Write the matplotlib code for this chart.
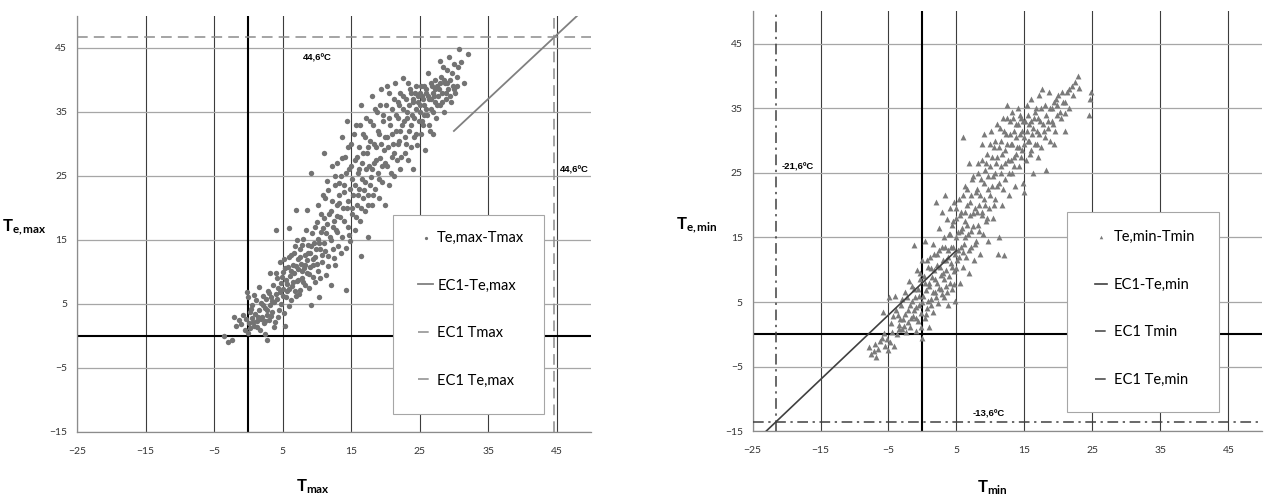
import matplotlib.pyplot as plt
from matplotlib.patches import Rectangle

plt.rcParams['font.family'] = ['Lato', 'DejaVu Sans']
plt.rcParams['mathtext.fontset'] = 'custom'
plt.rcParams['mathtext.rm'] = 'Lato'
plt.rcParams['mathtext.bf'] = 'Lato:bold'
plt.rcParams['mathtext.it'] = 'Lato:italic'

# 1. Datos (Tmax, Te,max)
puntos_max = [
    (-3.6, 0.0), (-3.0, -1.0), (-2.4, -0.6), (-2.1, 3.0), (-1.8, 1.5), (-1.4, 2.5), (-1.0, 1.8), (-0.8, 3.2),
    (-0.5, 0.9), (-0.4, 2.6), (-0.2, 6.9), (-0.1, 6.1), (0.0, 0.4), (0.1, 2.0), (0.2, 3.7), (0.3, 1.2),
    (0.5, 2.8), (0.6, 4.8), (0.8, 1.6), (1.0, 3.5), (1.1, 5.6), (1.3, 2.4), (1.5, 4.0), (1.6, 7.7),
    (1.7, 1.0), (1.9, 5.1), (2.0, 3.0), (2.1, 6.3), (2.3, 2.0), (2.4, 4.4), (2.5, 0.3), (2.6, 5.8),
    (2.7, 3.3), (2.8, -0.6), (2.9, 7.0), (3.0, 2.5), (3.1, 4.9), (3.2, 9.8), (3.3, 6.0), (3.5, 3.8),
    (3.6, 8.0), (3.7, 1.4), (3.8, 5.3), (4.0, 6.6), (4.1, 16.6), (4.2, 9.0), (4.3, 3.0), (4.4, 7.5),
    (4.6, 11.5), (4.7, 5.0), (4.8, 8.3), (5.0, 10.0), (5.1, 6.2), (5.2, 12.0), (5.3, 1.6), (5.5, 8.8),
    (5.6, 7.0), (5.8, 10.8), (5.9, 4.6), (6.0, 16.9), (6.1, 9.3), (6.2, 12.6), (6.4, 7.8), (6.5, 11.0),
    (6.7, 9.8), (6.8, 14.0), (6.9, 6.3), (7.0, 19.6), (7.1, 8.5), (7.2, 12.0), (7.3, 10.4), (7.5, 13.5),
    (7.6, 7.2), (7.7, 11.2), (7.8, 9.0), (8.0, 15.2), (8.1, 10.6), (8.2, 12.7), (8.3, 8.0), (8.5, 19.6),
    (8.6, 11.8), (8.7, 14.2), (8.8, 9.6), (9.0, 13.0), (9.1, 4.9), (9.2, 25.5), (9.3, 16.0), (9.4, 11.0),
    (9.6, 14.5), (9.7, 8.4), (9.8, 12.4), (10.0, 17.8), (10.1, 10.2), (10.2, 15.2), (10.3, 6.0), (10.5, 13.5),
    (10.6, 19.0), (10.7, 11.5), (10.9, 16.8), (11.0, 28.5), (11.1, 14.5), (11.2, 21.5), (11.3, 9.5), (11.5, 17.5),
    (11.6, 12.5), (11.7, 22.8), (11.9, 15.5), (12.0, 8.0), (12.1, 19.5), (12.2, 26.5), (12.3, 13.5), (12.5, 18.0),
    (12.6, 23.5), (12.7, 11.0), (12.8, 16.5), (12.9, 20.5), (13.0, 27.0), (13.1, 14.0), (13.2, 22.0), (13.4, 18.5),
    (13.5, 25.0), (13.6, 31.0), (13.7, 15.5), (13.8, 20.0), (14.0, 23.5), (14.1, 28.0), (14.2, 13.8), (14.3, 7.1),
    (14.4, 33.5), (14.5, 17.0), (14.6, 21.0), (14.7, 26.0), (14.8, 14.8), (15.0, 30.0), (15.1, 19.0), (15.2, 24.5),
    (15.3, 22.0), (15.5, 27.5), (15.6, 16.5), (15.7, 33.0), (15.8, 20.5), (16.0, 25.5), (16.1, 29.5), (16.2, 23.0),
    (16.3, 18.0), (16.4, 36.0), (16.5, 12.5), (16.6, 27.0), (16.7, 21.5), (16.8, 31.5), (17.0, 24.0), (17.1, 19.5),
    (17.2, 34.0), (17.3, 28.5), (17.4, 22.0), (17.5, 15.5), (17.6, 26.5), (17.8, 30.5), (17.9, 24.8), (18.0, 37.5),
    (18.1, 20.5), (18.2, 33.0), (18.3, 27.0), (18.5, 23.0), (18.6, 29.5), (18.8, 35.0), (18.9, 25.5), (19.0, 31.5),
    (19.1, 21.5), (19.2, 27.8), (19.4, 38.5), (19.5, 24.0), (19.6, 33.5), (19.8, 29.0), (20.0, 20.5), (20.1, 36.0),
    (20.2, 26.5), (20.3, 31.0), (20.5, 38.0), (20.6, 23.5), (20.7, 33.0), (20.9, 28.0), (21.0, 35.5), (21.1, 30.0),
    (21.2, 25.0), (21.4, 39.5), (21.5, 32.0), (21.7, 27.5), (21.8, 36.5), (21.9, 34.0), (22.0, 30.5), (22.1, 38.0),
    (22.2, 26.0), (22.4, 33.0), (22.5, 40.3), (22.6, 35.5), (22.8, 31.0), (22.9, 28.5), (23.0, 37.0), (23.1, 34.0),
    (23.3, 39.5), (23.4, 32.0), (23.5, 36.0), (23.7, 29.5), (23.8, 38.0), (23.9, 34.5), (24.0, 26.0), (24.1, 37.0),
    (24.2, 31.0), (24.4, 35.5), (24.5, 39.0), (24.6, 29.8), (24.8, 36.5), (24.9, 33.5), (25.0, 38.0), (25.1, 35.0),
    (25.2, 31.5), (25.4, 37.5), (25.5, 33.0), (25.6, 39.0), (25.7, 36.0), (25.8, 29.0), (26.0, 38.5), (26.1, 34.5),
    (26.2, 41.0), (26.3, 37.0), (26.5, 32.0), (26.6, 39.5), (26.7, 35.5), (26.9, 38.0), (27.0, 31.5), (27.2, 40.0),
    (27.3, 36.5), (27.4, 34.0), (27.6, 39.0), (27.7, 37.5), (27.9, 43.0), (28.0, 36.0), (28.1, 40.5), (28.3, 38.0),
    (28.4, 42.0), (28.6, 35.0), (28.7, 39.5), (28.9, 37.0), (29.0, 41.5), (29.2, 38.5), (29.3, 43.5), (29.5, 40.0),
    (29.6, 36.5), (29.8, 39.0), (30.0, 42.5), (30.2, 38.0), (30.4, 40.5), (30.6, 42.0), (30.8, 44.8), (31.0, 42.8),
    (31.5, 39.5), (32.0, 44.0),
    (0.4, 4.2), (0.7, 2.2), (0.9, 6.4), (1.2, 1.4), (1.4, 3.0), (1.8, 2.6), (2.2, 4.9), (2.5, 2.3),
    (2.8, 4.1), (3.0, 6.7), (3.3, 3.1), (3.4, 5.4), (3.9, 2.2), (4.0, 9.8), (4.2, 5.8), (4.5, 4.0),
    (4.6, 6.9), (4.9, 9.2), (5.0, 7.4), (5.2, 3.6), (5.4, 10.6), (5.5, 6.0), (5.7, 8.1), (5.9, 12.4),
    (6.0, 7.4), (6.2, 5.6), (6.3, 10.1), (6.5, 8.4), (6.6, 13.0), (6.8, 7.0), (7.0, 10.9), (7.1, 15.0),
    (7.3, 8.8), (7.4, 6.5), (7.6, 12.4), (7.8, 10.2), (7.9, 14.2), (8.0, 8.4), (8.2, 11.0), (8.4, 16.6),
    (8.5, 9.8), (8.7, 12.9), (8.9, 7.5), (9.0, 10.8), (9.2, 14.0), (9.4, 12.0), (9.5, 9.2), (9.7, 17.0),
    (9.9, 13.6), (10.0, 11.2), (10.2, 20.5), (10.3, 14.5), (10.5, 9.0), (10.6, 16.2), (10.8, 12.6), (10.9, 22.0),
    (11.0, 18.4), (11.2, 13.2), (11.4, 16.0), (11.5, 24.2), (11.7, 10.9), (11.8, 19.0), (12.0, 15.0), (12.2, 21.0),
    (12.4, 17.0), (12.5, 12.2), (12.7, 25.0), (12.9, 18.8), (13.0, 16.2), (13.2, 23.8), (13.3, 20.8), (13.5, 13.0),
    (13.7, 27.8), (13.9, 22.5), (14.0, 18.0), (14.2, 25.5), (14.4, 20.0), (14.6, 29.5), (14.7, 15.8), (14.9, 23.0),
    (15.0, 26.5), (15.2, 20.0), (15.4, 31.5), (15.5, 23.5), (15.7, 18.5), (15.9, 28.0), (16.0, 22.0), (16.2, 26.0),
    (16.3, 33.0), (16.5, 20.0), (16.6, 24.5), (16.8, 28.5), (16.9, 22.8), (17.0, 31.0), (17.2, 26.0), (17.4, 20.5),
    (17.5, 29.5), (17.7, 23.5), (17.8, 33.5), (18.0, 26.0), (18.2, 22.0), (18.4, 30.0), (18.5, 35.5), (18.7, 27.5),
    (18.9, 32.0), (19.0, 24.5), (19.2, 36.0), (19.3, 30.0), (19.5, 26.5), (19.7, 34.5), (19.9, 31.0), (20.0, 27.0),
    (20.2, 39.0), (20.4, 29.5), (20.5, 34.0), (20.8, 25.5), (21.0, 31.5), (21.2, 37.0), (21.3, 28.5), (21.6, 34.5),
    (21.8, 30.0), (22.0, 36.0), (22.2, 32.0), (22.3, 28.0), (22.5, 37.5), (22.7, 33.5), (23.0, 30.0), (23.2, 35.0),
    (23.3, 27.5), (23.6, 38.5), (23.8, 33.0), (24.0, 36.5), (24.2, 34.0), (24.3, 38.0), (24.5, 31.5), (24.7, 37.5),
    (25.0, 36.0), (25.2, 39.0), (25.3, 33.5), (25.5, 37.0), (25.7, 34.5), (25.9, 38.0), (26.0, 35.5), (26.2, 37.5),
    (26.4, 33.0), (26.6, 37.0), (26.8, 39.0), (27.0, 35.0), (27.1, 37.5), (27.3, 38.5), (27.5, 36.0), (27.8, 38.5),
    (28.0, 39.5), (28.2, 36.5), (28.5, 40.0), (28.8, 38.0), (29.0, 39.5), (29.4, 37.5), (29.7, 41.0), (30.0, 38.5),
    (30.5, 39.0),
]
tmax = [p[0] for p in puntos_max]
te_max = [p[1] for p in puntos_max]

# 2. Datos (Tmin, Te,min)
puntos_min = [
    (-7.8, -2.0), (-7.5, -3.0), (-7.0, -1.5), (-6.8, -3.5), (-6.5, -2.3), (-6.0, -0.5), (-5.8, 3.5), (-5.5, -1.8),
    (-5.0, -2.5), (-4.9, 5.8), (-4.8, -1.2), (-4.5, 0.4), (-4.3, 2.8), (-4.0, 6.0), (-3.8, 0.0), (-3.6, 3.0),
    (-3.4, 1.5), (-3.2, 4.5), (-3.0, 0.8), (-2.8, 2.3), (-2.6, 6.5), (-2.4, 0.3), (-2.2, 3.8), (-2.0, 8.2),
    (-1.8, 1.2), (-1.6, 5.2), (-1.4, 2.8), (-1.3, 13.8), (-1.2, 7.0), (-1.0, 0.5), (-0.9, 4.2), (-0.8, 10.0),
    (-0.6, 2.0), (-0.5, 6.0), (-0.4, 8.5), (-0.2, 3.3), (-0.1, 11.5), (0.0, -0.5), (0.0, 5.0), (0.2, 9.0),
    (0.3, 2.5), (0.4, 14.5), (0.5, 6.8), (0.6, 4.0), (0.8, 10.5), (0.9, 7.5), (1.0, 1.2), (1.1, 12.0),
    (1.2, 5.5), (1.4, 8.8), (1.5, 14.0), (1.6, 3.5), (1.7, 10.0), (1.8, 6.5), (2.0, 20.5), (2.1, 12.5),
    (2.2, 8.0), (2.3, 4.8), (2.4, 16.5), (2.6, 10.5), (2.7, 7.0), (2.8, 13.5), (2.9, 19.0), (3.0, 9.5),
    (3.1, 5.8), (3.2, 15.0), (3.3, 21.5), (3.4, 11.5), (3.5, 7.5), (3.6, 17.8), (3.7, 13.0), (3.8, 4.5),
    (3.9, 9.0), (4.0, 19.5), (4.1, 15.5), (4.2, 11.0), (4.3, 7.0), (4.4, 17.0), (4.5, 13.5), (4.6, 20.5),
    (4.7, 9.8), (4.8, 5.2), (4.9, 15.0), (5.0, 18.0), (5.1, 11.5), (5.2, 13.0), (5.4, 21.0), (5.5, 8.0),
    (5.6, 16.0), (5.7, 19.0), (5.9, 10.5), (6.0, 30.5), (6.1, 14.0), (6.2, 17.5), (6.3, 23.0), (6.4, 12.0),
    (6.5, 20.0), (6.7, 15.5), (6.8, 9.5), (6.9, 26.5), (7.0, 18.5), (7.1, 13.5), (7.2, 21.5), (7.4, 16.8),
    (7.5, 24.5), (7.6, 11.5), (7.7, 19.5), (7.8, 14.5), (8.0, 22.5), (8.1, 26.5), (8.2, 17.0), (8.3, 20.0),
    (8.4, 12.5), (8.6, 24.0), (8.7, 29.5), (8.8, 18.5), (8.9, 15.5), (9.0, 21.0), (9.1, 31.0), (9.2, 25.5),
    (9.3, 17.5), (9.5, 28.0), (9.6, 22.5), (9.7, 14.5), (9.8, 19.5), (10.0, 26.0), (10.1, 31.5), (10.2, 23.0),
    (10.4, 18.0), (10.5, 29.0), (10.6, 25.0), (10.7, 21.0), (10.9, 32.5), (11.0, 27.5), (11.1, 12.5), (11.2, 23.5),
    (11.3, 15.0), (11.5, 30.0), (11.6, 26.0), (11.7, 20.0), (11.9, 33.5), (12.0, 12.3), (12.1, 28.5), (12.2, 24.0),
    (12.3, 31.0), (12.5, 35.5), (12.6, 27.0), (12.7, 21.5), (12.8, 33.0), (13.0, 29.5), (13.1, 25.0), (13.2, 34.5),
    (13.4, 31.5), (13.5, 27.5), (13.6, 23.0), (13.8, 32.5), (13.9, 29.0), (14.0, 35.0), (14.2, 26.0), (14.3, 31.0),
    (14.5, 33.5), (14.6, 28.5), (14.8, 23.5), (14.9, 30.5), (15.0, 22.0), (15.1, 33.0), (15.2, 27.0), (15.4, 35.5),
    (15.5, 30.0), (15.6, 32.5), (15.8, 28.0), (16.0, 36.5), (16.1, 31.0), (16.2, 25.0), (16.4, 33.5), (16.5, 29.5),
    (16.7, 35.0), (16.8, 31.5), (17.0, 27.5), (17.2, 37.0), (17.3, 33.0), (17.5, 29.0), (17.6, 38.0), (17.8, 31.5),
    (18.0, 35.5), (18.2, 25.5), (18.4, 33.0), (18.6, 37.5), (18.8, 30.0), (19.0, 35.0), (19.2, 32.5), (19.4, 29.5),
    (19.6, 36.5), (19.8, 34.0), (20.0, 37.0), (20.3, 33.5), (20.6, 36.0), (20.9, 31.5), (21.0, 34.2), (21.3, 37.5),
    (21.6, 35.0), (22.0, 38.5), (22.4, 39.0), (22.8, 40.0), (23.0, 38.2), (24.5, 34.0), (24.7, 36.5), (24.8, 37.5),
    (-7.2, -2.6), (-6.3, -1.0), (-5.6, 0.2), (-5.2, -0.8), (-4.6, 1.8), (-4.2, -1.8), (-3.9, 3.8), (-3.5, 0.8),
    (-3.3, 2.3), (-3.0, 5.4), (-2.7, 1.3), (-2.5, 3.2), (-2.3, 5.8), (-2.1, 1.9), (-1.9, 4.5), (-1.7, 2.5),
    (-1.5, 7.5), (-1.3, 3.8), (-1.1, 5.8), (-0.9, 2.6), (-0.7, 7.0), (-0.5, 4.5), (-0.3, 9.5), (-0.2, 1.2),
    (0.1, 6.0), (0.3, 8.0), (0.5, 3.2), (0.6, 11.5), (0.8, 5.2), (1.0, 8.0), (1.2, 10.2), (1.3, 4.5),
    (1.5, 6.5), (1.7, 12.5), (1.9, 8.5), (2.0, 5.8), (2.2, 10.8), (2.4, 7.2), (2.5, 13.0), (2.7, 9.2),
    (2.9, 6.2), (3.0, 11.5), (3.2, 8.5), (3.3, 13.5), (3.5, 10.0), (3.6, 6.5), (3.8, 12.0), (3.9, 15.5),
    (4.0, 8.0), (4.2, 13.5), (4.3, 10.5), (4.5, 17.5), (4.6, 7.8), (4.8, 12.5), (4.9, 19.5), (5.0, 10.2),
    (5.2, 15.8), (5.3, 12.0), (5.5, 18.5), (5.6, 13.5), (5.8, 16.5), (5.9, 21.5), (6.0, 12.8), (6.2, 19.0),
    (6.3, 15.0), (6.5, 22.5), (6.6, 17.0), (6.8, 13.0), (7.0, 20.5), (7.2, 16.0), (7.3, 24.0), (7.5, 18.8),
    (7.7, 14.0), (7.8, 22.0), (8.0, 19.0), (8.2, 25.0), (8.3, 16.0), (8.5, 21.5), (8.7, 19.0), (8.8, 27.0),
    (9.0, 23.5), (9.2, 20.0), (9.4, 26.5), (9.5, 18.0), (9.7, 24.5), (9.9, 29.5), (10.0, 21.5), (10.2, 27.5),
    (10.3, 24.5), (10.5, 20.0), (10.7, 30.0), (10.8, 26.5), (11.0, 23.0), (11.2, 29.0), (11.4, 32.0), (11.5, 25.0),
    (11.7, 28.0), (11.8, 22.5), (12.0, 31.5), (12.2, 26.5), (12.4, 29.5), (12.5, 33.5), (12.7, 25.0), (12.9, 31.0),
    (13.0, 27.0), (13.2, 29.5), (13.3, 33.5), (13.5, 26.0), (13.7, 30.5), (13.8, 28.0), (14.0, 32.5), (14.2, 29.0),
    (14.3, 34.0), (14.5, 27.5), (14.7, 31.5), (14.8, 33.0), (15.0, 29.5), (15.3, 31.5), (15.5, 34.0), (15.7, 30.0),
    (15.9, 33.0), (16.0, 28.5), (16.3, 32.0), (16.6, 34.5), (16.8, 29.5), (17.0, 33.5), (17.2, 31.0), (17.5, 35.0),
    (17.7, 32.5), (18.0, 30.5), (18.2, 34.0), (18.5, 32.0), (18.7, 35.0), (19.0, 33.0), (19.3, 36.0), (19.5, 31.5),
    (19.8, 35.5), (20.2, 34.5), (20.5, 37.5), (21.0, 36.0), (21.5, 38.0), (22.2, 37.0),
]
tmin = [p[0] for p in puntos_min]
te_min = [p[1] for p in puntos_min]

# 3. Rectas y limites EC1
ec1_tmax = 44.6
ec1_temax = 46.7
recta_max_x = [30, 49]
recta_max_y = [32, 51]

ec1_tmin = -21.6
ec1_temin = -13.6
recta_min_x = [-24, 5]
recta_min_y = [-16, 13]

x_ticks = [-25, -15, -5, 5, 15, 25, 35, 45]
y_ticks = [-15, -5, 5, 15, 25, 35, 45]

fig = plt.figure(figsize=(12.66, 4.95), dpi=100)
ax1 = fig.add_axes([0.0608, 0.1273, 0.406, 0.841])
ax2 = fig.add_axes([0.5944, 0.1289, 0.4028, 0.848])

anot = dict(fontsize=6.8, fontweight='bold', ha='left', va='center',
            family=['Liberation Sans', 'DejaVu Sans'])


def base_ejes(ax):
    # ejes, grilla y lineas de cero
    ax.set_xlim(-25, 50)
    ax.set_ylim(-15, 50)
    ax.set_xticks(x_ticks)
    ax.set_yticks(y_ticks)
    ax.tick_params(length=0, labelsize=7.5, labelcolor='#333333')
    ax.tick_params(axis='x', pad=11)
    ax.tick_params(axis='y', pad=7)
    ax.grid(axis='x', color='#3c3c3c', linewidth=0.8)
    ax.grid(axis='y', color='#a6a6a6', linewidth=0.9)
    ax.set_axisbelow(True)
    for s in ['top', 'right']:
        ax.spines[s].set_visible(False)
    for s in ['left', 'bottom']:
        ax.spines[s].set_color('#8c8c8c')
        ax.spines[s].set_linewidth(0.9)
    ax.axhline(0, color='black', linewidth=1.5, zorder=1)
    ax.axvline(0, color='black', linewidth=1.5, zorder=1)


def caja_leyenda(ax, x0, y0, x1, y1):
    ax.add_patch(Rectangle((x0, y0), x1 - x0, y1 - y0, transform=ax.transAxes,
                           facecolor='white', edgecolor='#a6a6a6', linewidth=0.8,
                           zorder=5, clip_on=False))


# 4. Grafico izquierdo: maximas
base_ejes(ax1)
sc1 = ax1.scatter(tmax, te_max, s=15, color='#737373', linewidths=0, zorder=3)
l1, = ax1.plot(recta_max_x, recta_max_y, color='#808080', linewidth=1.3, zorder=3)
l2 = ax1.axvline(ec1_tmax, color='#8c8c8c', linewidth=1.1, linestyle=(0, (7, 4)), zorder=3)
l3 = ax1.axhline(ec1_temax, color='#8c8c8c', linewidth=1.1, linestyle=(0, (7, 4)), zorder=3)

ax1.text(8.0, 43.4, '44,6ºC', **anot)
ax1.text(45.5, 25.9, '44,6ºC', **anot)

ax1.set_xlabel(r'$\mathbf{T}_{\mathbf{max}}$', fontsize=12)
ax1.xaxis.set_label_coords(0.459, -0.132)
ax1.xaxis.label.set_va('center')
ax1.set_ylabel(r'$\mathbf{T}_{\mathbf{e,max}}$', fontsize=12, rotation=0)
ax1.yaxis.set_label_coords(-0.103, 0.492)
ax1.yaxis.label.set_va('center')
ax1.yaxis.label.set_ha('center')

caja_leyenda(ax1, 0.614, 0.043, 0.909, 0.521)
leg1 = ax1.legend([sc1, l1, l2, l3], ['Te,max-Tmax', 'EC1-Te,max', 'EC1 Tmax', 'EC1 Te,max'],
                  loc='upper left', bbox_to_anchor=(0.664, 0.483), frameon=False,
                  borderpad=0, borderaxespad=0, handlelength=1.0, handletextpad=0.3,
                  labelspacing=2.3, fontsize=10.5, markerscale=0.6)
leg1.set_zorder(6)

# 5. Grafico derecho: minimas
base_ejes(ax2)
sc2 = ax2.scatter(tmin, te_min, s=18, marker='^', color='#7a7a7a', linewidths=0, zorder=3)
m1, = ax2.plot(recta_min_x, recta_min_y, color='#404040', linewidth=1.2, zorder=3)
m2 = ax2.axvline(ec1_tmin, color='#404040', linewidth=1.1, linestyle=(0, (7, 3, 1.5, 3)), zorder=3)
m3 = ax2.axhline(ec1_temin, color='#404040', linewidth=1.1, linestyle=(0, (7, 3, 1.5, 3)), zorder=3)

ax2.text(-20.7, 25.9, '-21,6ºC', **anot)
ax2.text(7.4, -12.3, '-13,6ºC', **anot)

ax2.set_xlabel(r'$\mathbf{T}_{\mathbf{min}}$', fontsize=12)
ax2.xaxis.set_label_coords(0.47, -0.135)
ax2.xaxis.label.set_va('center')
ax2.set_ylabel(r'$\mathbf{T}_{\mathbf{e,min}}$', fontsize=12, rotation=0)
ax2.yaxis.set_label_coords(-0.109, 0.491)
ax2.yaxis.label.set_va('center')
ax2.yaxis.label.set_ha('center')

caja_leyenda(ax2, 0.617, 0.046, 0.915, 0.521)
leg2 = ax2.legend([sc2, m1, m2, m3], ['Te,min-Tmin', 'EC1-Te,min', 'EC1 Tmin', 'EC1 Te,min'],
                  loc='upper left', bbox_to_anchor=(0.6716, 0.479), frameon=False,
                  borderpad=0, borderaxespad=0, handlelength=0.85, handletextpad=0.45,
                  labelspacing=2.3, fontsize=10.5, markerscale=0.6)
leg2.set_zorder(6)

plt.savefig('out.png', dpi=100)
